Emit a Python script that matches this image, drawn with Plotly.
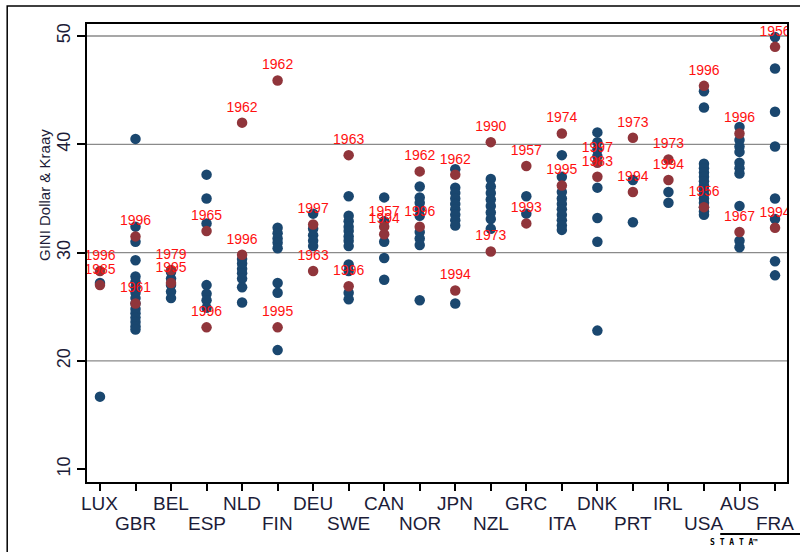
import plotly.graph_objects as go

countries = ["LUX", "GBR", "BEL", "ESP", "NLD", "FIN", "DEU", "SWE", "CAN", "NOR",
             "JPN", "NZL", "GRC", "ITA", "DNK", "PRT", "IRL", "USA", "AUS", "FRA"]

# blue points (all survey years) per country
blue_LUX = [16.7, 27.2]
blue_GBR = [40.5, 32.4, 31.0, 29.3, 27.8, 27.3, 26.8, 26.3, 25.8, 25.3, 24.8, 24.4, 24.0, 23.6, 23.2, 22.9]
blue_BEL = [28.2, 27.6, 27.0, 26.4, 25.8]
blue_ESP = [37.2, 35.0, 32.7, 27.0, 26.2, 25.6, 24.9]
blue_NLD = [29.4, 29.0, 28.5, 28.1, 27.6, 26.8, 25.4]
blue_FIN = [32.3, 31.8, 31.3, 30.9, 30.4, 27.2, 26.3, 21.0]
blue_DEU = [33.6, 32.2, 31.6, 31.1, 30.6]
blue_SWE = [35.2, 33.4, 32.9, 32.4, 32.0, 31.5, 31.1, 30.6, 28.9, 28.3, 26.3, 25.7]
blue_CAN = [35.1, 32.9, 31.0, 29.5, 27.5]
blue_NOR = [36.1, 35.1, 34.6, 34.0, 33.4, 31.9, 31.3, 30.7, 25.6]
blue_JPN = [37.7, 36.0, 35.5, 35.0, 34.5, 34.0, 33.5, 33.0, 32.5, 25.3]
blue_NZL = [36.8, 36.1, 35.5, 34.9, 34.3, 33.7, 33.1, 32.2]
blue_GRC = [35.2, 33.6]
blue_ITA = [39.0, 37.0, 35.6, 35.0, 34.5, 34.0, 33.5, 33.0, 32.5, 32.1]
blue_DNK = [41.1, 40.2, 39.5, 38.9, 36.0, 33.2, 31.0, 22.8]
blue_PRT = [36.7, 32.8]
blue_IRL = [35.6, 34.6]
blue_USA = [44.9, 43.4, 38.2, 37.8, 37.4, 37.0, 36.6, 36.2, 35.8, 35.4, 35.0, 34.6, 34.2, 33.8, 33.5]
blue_AUS = [41.6, 40.4, 39.8, 39.3, 38.3, 37.8, 37.3, 34.3, 31.1, 30.5]
blue_FRA = [49.9, 47.0, 43.0, 39.8, 35.0, 33.1, 29.2, 27.9]

blue_lists = [blue_LUX, blue_GBR, blue_BEL, blue_ESP, blue_NLD, blue_FIN, blue_DEU, blue_SWE,
              blue_CAN, blue_NOR, blue_JPN, blue_NZL, blue_GRC, blue_ITA, blue_DNK, blue_PRT,
              blue_IRL, blue_USA, blue_AUS, blue_FRA]

# highlighted (labelled) points
red_country = ["LUX", "LUX", "GBR", "GBR", "BEL", "BEL", "ESP", "ESP", "NLD", "NLD",
               "FIN", "FIN", "DEU", "DEU", "SWE", "SWE", "CAN", "CAN", "NOR", "NOR",
               "JPN", "JPN", "NZL", "NZL", "GRC", "GRC", "ITA", "ITA", "DNK", "DNK",
               "PRT", "PRT", "IRL", "IRL", "USA", "USA", "AUS", "AUS", "FRA", "FRA"]
red_gini = [28.3, 27.0, 31.5, 25.3, 28.4, 27.2, 32.0, 23.1, 42.0, 29.8,
            45.9, 23.1, 32.6, 28.3, 39.0, 26.9, 32.4, 31.7, 37.5, 32.4,
            37.2, 26.5, 40.2, 30.1, 38.0, 32.7, 41.0, 36.2, 38.3, 37.0,
            40.6, 35.6, 38.6, 36.7, 45.4, 34.2, 41.0, 31.9, 49.0, 32.3]
red_year = ["1996", "1985", "1996", "1961", "1979", "1995", "1965", "1996", "1962", "1996",
            "1962", "1995", "1997", "1963", "1963", "1996", "1957", "1994", "1962", "1996",
            "1962", "1994", "1990", "1973", "1957", "1993", "1974", "1995", "1997", "1983",
            "1973", "1994", "1973", "1994", "1996", "1956", "1996", "1967", "1956", "1994"]

y_ticks = [10, 20, 30, 40, 50]
grid_values = [20, 30, 40, 50]

BLUE = "#1a476f"
MAROON = "#90353b"
TXT = "#1c1c38"

blue_x, blue_y = [], []
for c, vals in zip(countries, blue_lists):
    blue_x += [c] * len(vals)
    blue_y += vals

fig = go.Figure()
fig.add_trace(go.Scatter(x=blue_x, y=blue_y, mode="markers",
                         marker=dict(color=BLUE, size=10.5, line=dict(width=0)),
                         showlegend=False, hoverinfo="skip"))
fig.add_trace(go.Scatter(x=red_country, y=red_gini, mode="markers+text",
                         text=red_year, textposition="top center",
                         textfont=dict(family="Liberation Sans, Arial", size=14, color="#ff1010"),
                         marker=dict(color=MAROON, size=10.5, line=dict(width=0)),
                         showlegend=False, hoverinfo="skip"))

shapes = []
for g in grid_values:
    shapes.append(dict(type="line", xref="paper", yref="y", x0=0, x1=1, y0=g, y1=g,
                       line=dict(color="#8a8a8a", width=1.3), layer="below"))
# outer frame (graph region border)
shapes.append(dict(type="rect", xref="paper", yref="paper", x0=-0.114, x1=1.2,
                   y0=-0.4, y1=1.0393, line=dict(color="black", width=1.5)))
# stata logo lines
shapes.append(dict(type="line", xref="paper", yref="paper", x0=0.9046, x1=1.02,
                   y0=-0.1135, y1=-0.1135, line=dict(color="black", width=2)))

annotations = []
for i, c in enumerate(countries):
    annotations.append(dict(x=c, y=0, xref="x", yref="paper", text=c, showarrow=False,
                            yanchor="middle", xanchor="center",
                            yshift=-21 if i % 2 == 0 else -41,
                            font=dict(family="Liberation Sans, Arial", size=19, color=TXT)))
annotations.append(dict(x=0.962, y=-0.1135, xref="paper", yref="paper", text="<b>S T A T A™</b>",
                        showarrow=False, yanchor="top", yshift=-2,
                        font=dict(family="DejaVu Sans Mono", size=8, color="black")))
# y-axis title
annotations.append(dict(x=-0.0598, y=0.627, xref="paper", yref="paper",
                        text="GINI Dollar & Kraay", textangle=-90, showarrow=False,
                        xanchor="center", yanchor="middle",
                        font=dict(family="Liberation Sans, Arial", size=15, color=TXT)))

fig.update_layout(
    width=800, height=552,
    margin=dict(l=87, r=11, t=24, b=70),
    paper_bgcolor="white", plot_bgcolor="white",
    shapes=shapes, annotations=annotations,
    font=dict(family="Liberation Sans, Arial"),
    xaxis=dict(type="category", categoryorder="array", categoryarray=countries,
               range=[-0.365, 19.337], showgrid=False, zeroline=False,
               showline=True, linecolor="black", linewidth=1.5, mirror=True,
               ticks="outside", ticklen=7, tickwidth=1.5, tickcolor="black",
               showticklabels=False),
    yaxis=dict(range=[8.82, 51.11], tickvals=y_ticks, showgrid=False, zeroline=False,
               showline=True, linecolor="black", linewidth=1.5, mirror=True,
               ticks="outside", ticklen=8, tickwidth=1.5, tickcolor="black",
               tickangle=-90, tickfont=dict(size=18, color=TXT)),
)

fig.write_html("out.html")
